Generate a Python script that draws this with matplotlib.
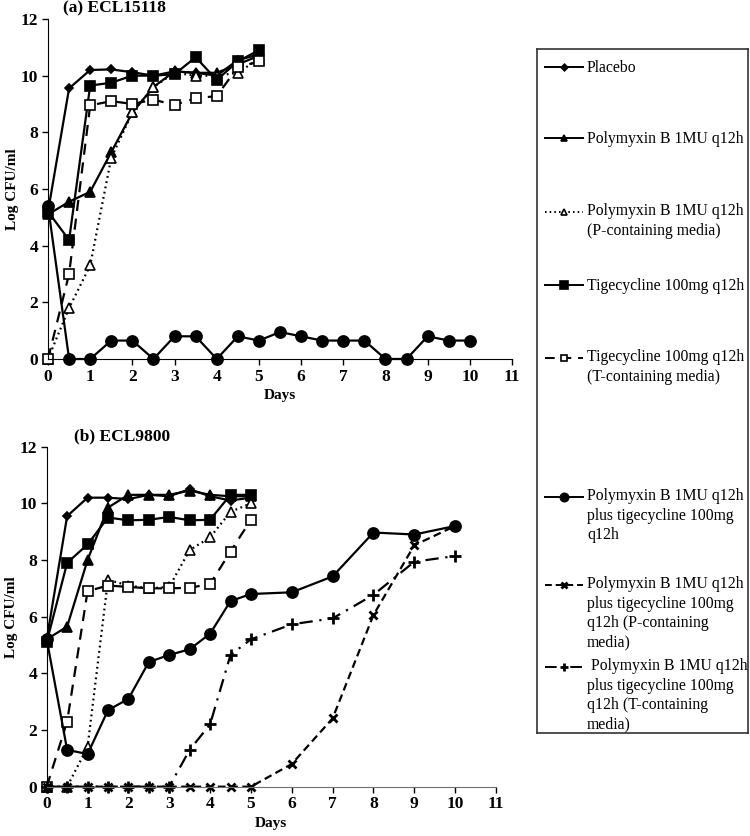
import matplotlib.pyplot as plt
import numpy as np

plt.rcParams['font.family'] = ['Liberation Serif', 'DejaVu Serif']

# ---- data: (a) ECL15118 ----
days_a = [0, 0.5, 1, 1.5, 2, 2.5, 3, 3.5, 4, 4.5, 5]
days_a_combo = [0, 0.5, 1, 1.5, 2, 2.5, 3, 3.5, 4, 4.5, 5, 5.5, 6, 6.5, 7,
                7.5, 8, 8.5, 9, 9.5, 10]
a_placebo = [5.2, 9.55, 10.2, 10.22, 10.12, 10.0, 10.15, 10.1, 10.0, 10.55, 10.75]
a_poly = [5.1, 5.55, 5.9, 7.3, 8.7, 9.6, 10.15, 10.1, 10.1, 10.4, 10.7]
a_poly_p = [0, 1.8, 3.3, 7.1, 8.7, 9.6, 10.1, 10.0, 10.0, 10.1, 10.6]
a_tige = [5.2, 4.2, 9.65, 9.75, 10.0, 10.0, 10.05, 10.65, 9.85, 10.5, 10.9]
a_tige_t = [0, 3.0, 8.95, 9.1, 9.0, 9.15, 8.97, 9.2, 9.28, 10.3, 10.5]
a_combo = [5.4, 0, 0, 0.65, 0.65, 0, 0.8, 0.8, 0, 0.8, 0.65, 0.95, 0.8, 0.65,
           0.65, 0.65, 0, 0, 0.8, 0.65, 0.65]

# ---- data: (b) ECL9800 ----
days_b = [0, 0.5, 1, 1.5, 2, 2.5, 3, 3.5, 4, 4.5, 5]
days_b_combo = [0, 0.5, 1, 1.5, 2, 2.5, 3, 3.5, 4, 4.5, 5, 6, 7, 8, 9, 10]
b_placebo = [5.2, 9.55, 10.2, 10.2, 10.15, 10.3, 10.25, 10.5, 10.25, 10.1, 10.2]
b_poly = [5.2, 5.65, 8.0, 9.85, 10.3, 10.3, 10.3, 10.45, 10.3, 10.25, 10.25]
b_poly_p = [0, 0, 1.4, 7.3, 7.1, 7.0, 7.05, 8.35, 8.8, 9.7, 10.0]
b_tige = [5.1, 7.9, 8.55, 9.5, 9.4, 9.42, 9.52, 9.4, 9.42, 10.3, 10.3]
b_tige_t = [0, 2.3, 6.9, 7.1, 7.05, 7.0, 7.0, 7.02, 7.15, 8.3, 9.42]
b_combo = [5.2, 1.3, 1.15, 2.7, 3.1, 4.4, 4.65, 4.85, 5.4, 6.55, 6.8, 6.86,
           7.42, 8.97, 8.9, 9.2]
b_combo_p = [0, 0, 0, 0, 0, 0, 0, 0, 0, 0, 0, 0.8, 2.41, 6.06, 8.52, 9.2]
b_combo_t = [0, 0, 0, 0, 0, 0, 0, 1.3, 2.2, 4.65, 5.2, 5.73, 5.94, 6.77, 7.94, 8.14]

labels = ["Placebo",
          "Polymyxin B 1MU q12h",
          "Polymyxin B 1MU q12h\n(P-containing media)",
          "Tigecycline 100mg q12h",
          "Tigecycline 100mg q12h\n(T-containing media)",
          "Polymyxin B 1MU q12h\nplus tigecycline 100mg\nq12h",
          "Polymyxin B 1MU q12h\nplus tigecycline 100mg\nq12h (P-containing\nmedia)",
          " Polymyxin B 1MU q12h\nplus tigecycline 100mg\nq12h (T-containing\nmedia)"]

# line styles for each series (same order as labels)
styles = [
    dict(ls='-', marker='D', ms=4.5, mfc='k'),
    dict(ls='-', marker='^', ms=6.5, mfc='k'),
    dict(ls=(0, (0.8, 1.6)), marker='^', ms=6.5, mfc='white'),
    dict(ls='-', marker='s', ms=7, mfc='k'),
    dict(ls=(0, (5, 3.5)), marker='s', ms=6.5, mfc='white'),
    dict(ls='-', marker='o', ms=8, mfc='k'),
    dict(ls=(0, (3.5, 2)), marker='x', ms=6, mfc='k', mew=2),
    dict(ls=(0, (6, 3, 1, 3)), marker='+', ms=8, mfc='k', mew=2),
]
for s in styles:
    s.setdefault('mew', 1.2)
    s.update(color='k', mec='k', lw=1.6)

fig = plt.figure(figsize=(7.5, 8.36), dpi=100)
ax_a = fig.add_axes([0.064, 0.5706, 0.6187, 0.4067])
ax_b = fig.add_axes([0.0623, 0.059, 0.599, 0.4067])

ax_a.plot(days_a, a_placebo, **styles[0])
ax_a.plot(days_a, a_poly, **styles[1])
ax_a.plot(days_a, a_poly_p, **styles[2])
ax_a.plot(days_a, a_tige, **styles[3])
ax_a.plot(days_a, a_tige_t, **styles[4])
ax_a.plot(days_a_combo, a_combo, **styles[5])

ax_b.plot(days_b, b_placebo, **styles[0])
ax_b.plot(days_b, b_poly, **styles[1])
ax_b.plot(days_b, b_poly_p, **styles[2])
ax_b.plot(days_b, b_tige, **styles[3])
ax_b.plot(days_b, b_tige_t, **styles[4])
ax_b.plot(days_b_combo, b_combo, **styles[5])
ax_b.plot(days_b_combo, b_combo_p, **styles[6])
ax_b.plot(days_b_combo, b_combo_t, **styles[7])

panels = [(ax_a, "(a) ECL15118", 'k', 0.032, 1.03),
          (ax_b, "(b) ECL9800", '#707070', 0.061, 1.03)]
for ax, title, spine_col, tx, ty in panels:
    ax.set_xlim(0, 11)
    ax.set_ylim(0, 12)
    ax.set_xticks(np.arange(0, 12, 1))
    ax.set_yticks(np.arange(0, 13, 2))
    for sp in ['top', 'right']:
        ax.spines[sp].set_visible(False)
    ax.spines['left'].set_color('k')
    ax.spines['bottom'].set_color(spine_col)
    ax.tick_params(direction='out', length=4, width=1, labelsize=12.5, pad=3)
    for lab in ax.get_xticklabels() + ax.get_yticklabels():
        lab.set_fontweight('bold')
    ax.set_xlabel("Days", fontsize=11, fontweight='bold', labelpad=3)
    ax.set_ylabel("Log CFU/ml", fontsize=11, fontweight='bold', labelpad=1)
    ax.text(tx, ty, title, transform=ax.transAxes, fontsize=12.5,
            fontweight='bold', ha='left', va='center')
    for ln in ax.get_lines():
        ln.set_clip_on(False)

# legend drawn in its own axes (pixel-like coordinates)
ax_l = fig.add_axes([537 / 750, 1 - 733 / 836, 211 / 750, 684 / 836])
ax_l.set_xlim(537, 748)
ax_l.set_ylim(733, 49)
ax_l.set_xticks([])
ax_l.set_yticks([])
for sp in ax_l.spines.values():
    sp.set_linewidth(1.2)
    sp.set_color('#333333')

entry_y = [67, 138, 212, 285, 358, 497, 585, 667]
for y, lab, st in zip(entry_y, labels, styles):
    st2 = dict(st)
    st2['lw'] = 1.4
    st2['ms'] = st['ms'] * 0.75
    ax_l.plot([545, 583], [y, y], **dict(st2, marker='None'))
    ax_l.plot([564], [y], **dict(st2, ls='None'))
    if '\n' in lab:
        ax_l.text(587, y - 9, lab, fontsize=11.3, ha='left', va='top', linespacing=1.3)
    else:
        ax_l.text(587, y + 1, lab, fontsize=11.3, ha='left', va='center')

fig.savefig("out.png", dpi=100)
